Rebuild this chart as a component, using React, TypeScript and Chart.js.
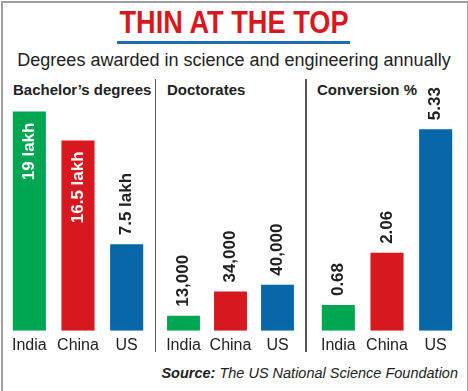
import React, { useEffect, useRef } from "react";
import { Chart, registerables } from "chart.js";

Chart.register(...registerables);

const countries = ["India", "China", "US"];
const bachelorValues = [19, 16.5, 7.5];
const bachelorLabels = ["19 lakh", "16.5 lakh", "7.5 lakh"];
const doctorateValues = [13000, 34000, 40000];
const doctorateLabels = ["13,000", "34,000", "40,000"];
const conversionValues = [0.68, 2.06, 5.33];
const conversionLabels = ["0.68", "2.06", "5.33"];
const barColors = ["#00a651", "#d7191f", "#0767a8"];

const SANS = "'Liberation Sans', Arial, sans-serif";

type PanelProps = {
  values: number[];
  labels: string[];
  inside: boolean[];
  max: number;
  left: number;
  width: number;
  barPct: number;
};

const valueLabelPlugin = {
  id: "valueLabels",
  afterDatasetsDraw(chart: any, _args: any, opts: any) {
    const ctx = chart.ctx;
    const meta = chart.getDatasetMeta(0);
    const labels: string[] = opts.labels;
    const inside: boolean[] = opts.inside;
    ctx.save();
    ctx.font = "bold 17px " + SANS;
    ctx.textBaseline = "middle";
    meta.data.forEach((bar: any, i: number) => {
      ctx.save();
      ctx.translate(bar.x, bar.y);
      ctx.rotate(-Math.PI / 2);
      if (inside[i]) {
        ctx.fillStyle = "#ffffff";
        ctx.textAlign = "right";
        ctx.fillText(labels[i], -11, 0);
      } else {
        ctx.fillStyle = "#222222";
        ctx.textAlign = "left";
        ctx.fillText(labels[i], 9, 0);
      }
      ctx.restore();
    });
    ctx.restore();
  },
};

function Panel({ values, labels, inside, max, left, width, barPct }: PanelProps) {
  const ref = useRef<HTMLCanvasElement>(null);
  useEffect(() => {
    if (!ref.current) return;
    const chart = new Chart(ref.current, {
      type: "bar",
      data: {
        labels: countries,
        datasets: [
          {
            data: values,
            backgroundColor: barColors,
            borderWidth: 0,
            barPercentage: barPct,
            categoryPercentage: 1,
          },
        ],
      },
      options: {
        animation: false,
        responsive: false,
        maintainAspectRatio: false,
        layout: { padding: { top: 22, left: 0, right: 0, bottom: 0 } },
        plugins: {
          legend: { display: false },
          tooltip: { enabled: false },
          valueLabels: { labels, inside },
        } as any,
        scales: {
          x: {
            grid: { display: false, drawTicks: false },
            border: { display: false },
            ticks: {
              color: "#222",
              font: { family: SANS, size: 16 },
              padding: 5,
              maxRotation: 0,
              autoSkip: false,
            },
          },
          y: { display: false, min: 0, max },
        },
      },
      plugins: [valueLabelPlugin],
    });
    return () => chart.destroy();
  }, []);
  return (
    <canvas
      ref={ref}
      width={width}
      height={282}
      style={{ position: "absolute", left, top: 78, width, height: 282 }}
    />
  );
}

export default function App() {
  const panelTitle: React.CSSProperties = {
    position: "absolute",
    top: 80,
    fontFamily: SANS,
    fontWeight: "bold",
    fontSize: 15,
    color: "#222",
    whiteSpace: "nowrap",
    lineHeight: "20px",
  };
  const divider: React.CSSProperties = {
    position: "absolute",
    top: 79,
    height: 273,
    width: 1.5,
    background: "#555",
  };
  return (
    <div
      style={{
        position: "absolute",
        left: 0,
        top: 0,
        width: 468,
        height: 391,
        background: "#fff",
        overflow: "hidden",
      }}
    >
      <div style={{ position: "absolute", left: 1, top: 1, width: 464, height: 400, borderTop: "2px solid #a0a0a0", borderLeft: "2px solid #a0a0a0", borderRight: "2px solid #a0a0a0" }} />
      <div
        style={{
          position: "absolute",
          left: 0,
          width: 468,
          top: 3,
          textAlign: "center",
          fontFamily: SANS,
          fontWeight: "bold",
          fontSize: 32,
          lineHeight: "38px",
          color: "#d7191f",
          transform: "scaleX(0.85)",
          transformOrigin: "234px 0",
        }}
      >
        THIN AT THE TOP
      </div>
      <div style={{ position: "absolute", left: 117, top: 41, width: 233, height: 3, background: "#1f6db3" }} />
      <div
        style={{
          position: "absolute",
          left: 0,
          width: 468,
          top: 50,
          textAlign: "center",
          fontFamily: SANS,
          fontSize: 18,
          lineHeight: "20px",
          color: "#222",
        }}
      >
        Degrees awarded in science and engineering annually
      </div>
      <div style={{ ...panelTitle, left: 13 }}>Bachelor’s degrees</div>
      <div style={{ ...panelTitle, left: 167 }}>Doctorates</div>
      <div style={{ ...panelTitle, left: 317 }}>Conversion %</div>
      <div style={{ ...divider, left: 154.5 }} />
      <div style={{ ...divider, left: 305 }} />
      <Panel values={bachelorValues} labels={bachelorLabels} inside={[true, true, false]} max={20} left={5} width={146} barPct={0.68} />
      <Panel values={doctorateValues} labels={doctorateLabels} inside={[false, false, false]} max={200000} left={160} width={141} barPct={0.7} />
      <Panel values={conversionValues} labels={conversionLabels} inside={[false, false, false]} max={6.1} left={314} width={146} barPct={0.68} />
      <div
        style={{
          position: "absolute",
          right: 10,
          top: 363,
          fontFamily: SANS,
          fontStyle: "italic",
          fontSize: 14.5,
          lineHeight: "20px",
          color: "#222",
          whiteSpace: "nowrap",
        }}
      >
        <b>Source:</b> The US National Science Foundation
      </div>
    </div>
  );
}
